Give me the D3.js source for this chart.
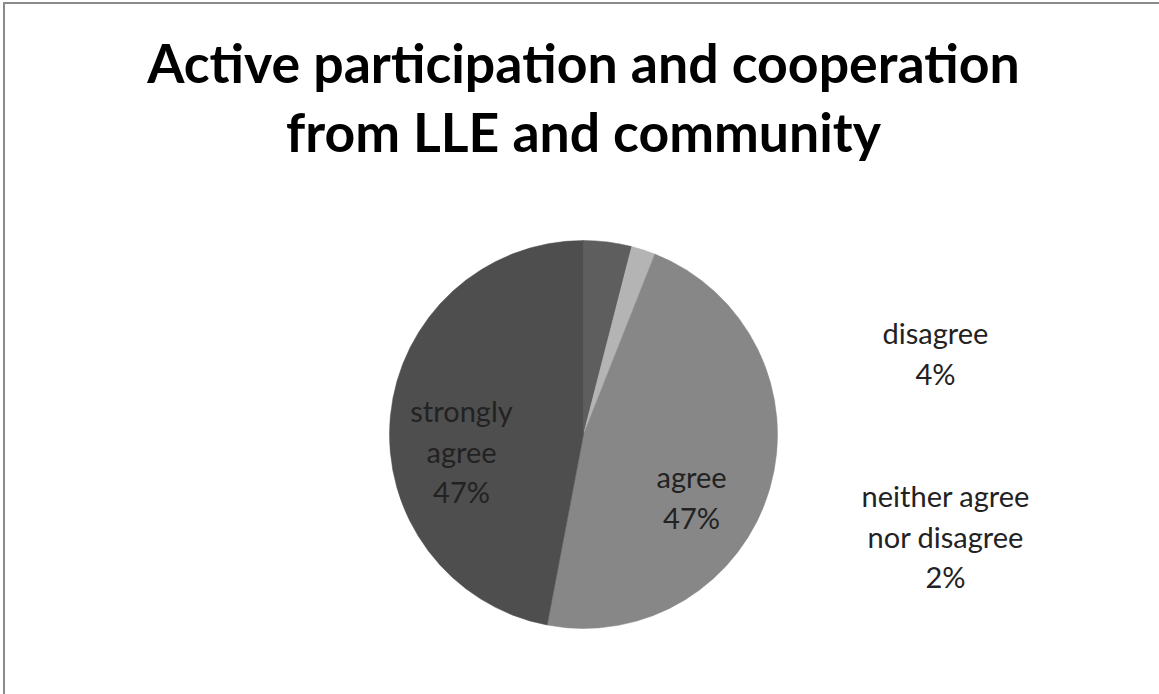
<!DOCTYPE html>
<html>
<head>
<meta charset="utf-8">
<script src="https://cdn.jsdelivr.net/npm/d3@7"></script>
<style>
  html, body { margin: 0; padding: 0; background: #ffffff; }
  svg { display: block; }
</style>
</head>
<body>
<svg id="chart" width="1159" height="694"></svg>
<script>
// Survey responses, in drawing order clockwise from 12 o'clock
const categories = ["disagree", "neither agree nor disagree", "agree", "strongly agree"];
const percents = [4, 2, 47, 47];
const labelLines = [
  ["disagree", "4%"],
  ["neither agree", "nor disagree", "2%"],
  ["agree", "47%"],
  ["strongly", "agree", "47%"]
];
const titleLines = ["Active participation and cooperation", "from LLE and community"];

const W = 1159, H = 694;
const cx = 583.5, cy = 434.5, radius = 194;
const fills = ["#5e5e5e", "#b4b4b4", "#878787", "#4e4e4e"];

// label block centres, relative to pie centre
const labelOffsets = [
  { dx: 352, dy: -80 },
  { dx: 362, dy: 103 },
  { dx: 108, dy: 64 },
  { dx: -122, dy: 18 }
];

const svg = d3.select("#chart");

// chart area frame
svg.append("rect")
  .attr("x", 4).attr("y", 3)
  .attr("width", W + 20).attr("height", H + 20)
  .attr("fill", "#ffffff")
  .attr("stroke", "#8a8a8a")
  .attr("stroke-width", 2);

// title
const titleSel = svg.append("g").selectAll("text")
  .data(titleLines)
  .join("text")
  .attr("x", cx)
  .attr("y", (d, i) => 83 + i * 69)
  .attr("text-anchor", "middle")
  .attr("font-family", "Lato, 'Open Sans', sans-serif")
  .attr("font-weight", "bold")
  .attr("font-size", 50)
  .attr("fill", "#000000")
  .text(d => d);
const titleWidths = [873, 595];
titleSel.each(function(d, i) {
  const w = this.getComputedTextLength();
  const fs = 50 * titleWidths[i] / w;
  d3.select(this).attr("font-size", Math.min(54, Math.max(46, fs)));
});

// pie
const data = categories.map((c, i) => ({ category: c, value: percents[i], lines: labelLines[i], fill: fills[i], off: labelOffsets[i] }));
const pie = d3.pie().sort(null).value(d => d.value);
const arc = d3.arc().innerRadius(0).outerRadius(radius);
const arcs = pie(data);

const g = svg.append("g").attr("transform", `translate(${cx},${cy})`);
g.selectAll("path")
  .data(arcs)
  .join("path")
  .attr("d", arc)
  .attr("fill", d => d.data.fill)
  .attr("stroke", d => d.data.fill)
  .attr("stroke-width", 0.5);

// data labels
const lineH = 40.5;
const labels = g.selectAll("g.label")
  .data(arcs)
  .join("g")
  .attr("class", "label")
  .attr("transform", d => `translate(${d.data.off.dx},${d.data.off.dy})`);
labels.each(function(d) {
  const n = d.data.lines.length;
  d3.select(this).selectAll("text")
    .data(d.data.lines)
    .join("text")
    .attr("x", 0)
    .attr("y", (t, i) => (i - (n - 1) / 2) * lineH + 10)
    .attr("text-anchor", "middle")
    .attr("font-family", "Lato, 'Open Sans', sans-serif")
    .attr("font-size", 29)
    .attr("fill", "#222222")
    .text(t => t);
});
</script>
</body>
</html>
